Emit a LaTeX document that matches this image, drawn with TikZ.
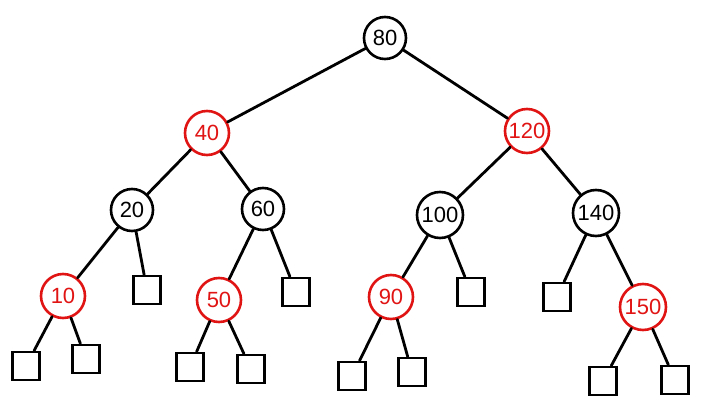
\documentclass[tikz,border=0pt]{standalone}
\usepackage{fontspec}
\setmainfont{Liberation Sans}
\definecolor{rbred}{RGB}{225,20,20}
\begin{document}
\begin{tikzpicture}[x=1pt,y=-1pt,
  every node/.style={font=\fontsize{22}{22}\selectfont, inner sep=0pt},
  blk/.style={circle, draw=black, line width=2.6pt, minimum size=42pt, text=black},
  rd/.style={circle, draw=rbred, line width=2.6pt, minimum size=44pt, text=rbred},
  leaf/.style={rectangle, draw=black, line width=2.6pt, minimum width=27pt, minimum height=28pt},
  edge/.style={draw=black, line width=2.8pt, line cap=round}]
\useasboundingbox (0,0) rectangle (702,406);
\node[blk] (n80) at (385,38) {80};
\node[rd] (n40) at (207,133) {40};
\node[rd] (n120) at (527,131) {120};
\node[blk] (n20) at (132,210) {20};
\node[blk] (n60) at (263,209) {60};
\node[blk, minimum width=46pt] (n100) at (440,215) {100};
\node[blk, minimum width=46pt] (n140) at (596,213) {140};
\node[rd] (n10) at (63,296) {10};
\node[leaf] (l20) at (147,290) {};
\node[rd] (n50) at (219,300) {50};
\node[leaf] (l60) at (296,292) {};
\node[rd] (n90) at (391,297) {90};
\node[leaf] (l100) at (471,292) {};
\node[leaf] (l140) at (557,297) {};
\node[rd, minimum size=46pt] (n150) at (643,307) {150};
\node[leaf] (l10a) at (26,366) {};
\node[leaf] (l10b) at (86,359) {};
\node[leaf] (l50a) at (190,367) {};
\node[leaf] (l50b) at (251,369) {};
\node[leaf] (l90a) at (352,376) {};
\node[leaf] (l90b) at (412,372) {};
\node[leaf] (l150a) at (603,381) {};
\node[leaf] (l150b) at (675,380) {};
\path[edge] (n80) -- (n40);
\path[edge] (n80) -- (n120);
\path[edge] (n40) -- (n20);
\path[edge] (n40) -- (n60);
\path[edge] (n120) -- (n100);
\path[edge] (n120) -- (n140);
\path[edge] (n20) -- (n10);
\path[edge] (n20) -- (l20);
\path[edge] (n60) -- (n50);
\path[edge] (n60) -- (l60);
\path[edge] (n100) -- (n90);
\path[edge] (n100) -- (l100);
\path[edge] (n140) -- (l140);
\path[edge] (n140) -- (n150);
\path[edge] (n10) -- (l10a);
\path[edge] (n10) -- (l10b);
\path[edge] (n50) -- (l50a);
\path[edge] (n50) -- (l50b);
\path[edge] (n90) -- (l90a);
\path[edge] (n90) -- (l90b);
\path[edge] (n150) -- (l150a);
\path[edge] (n150) -- (l150b);
\end{tikzpicture}
\end{document}
